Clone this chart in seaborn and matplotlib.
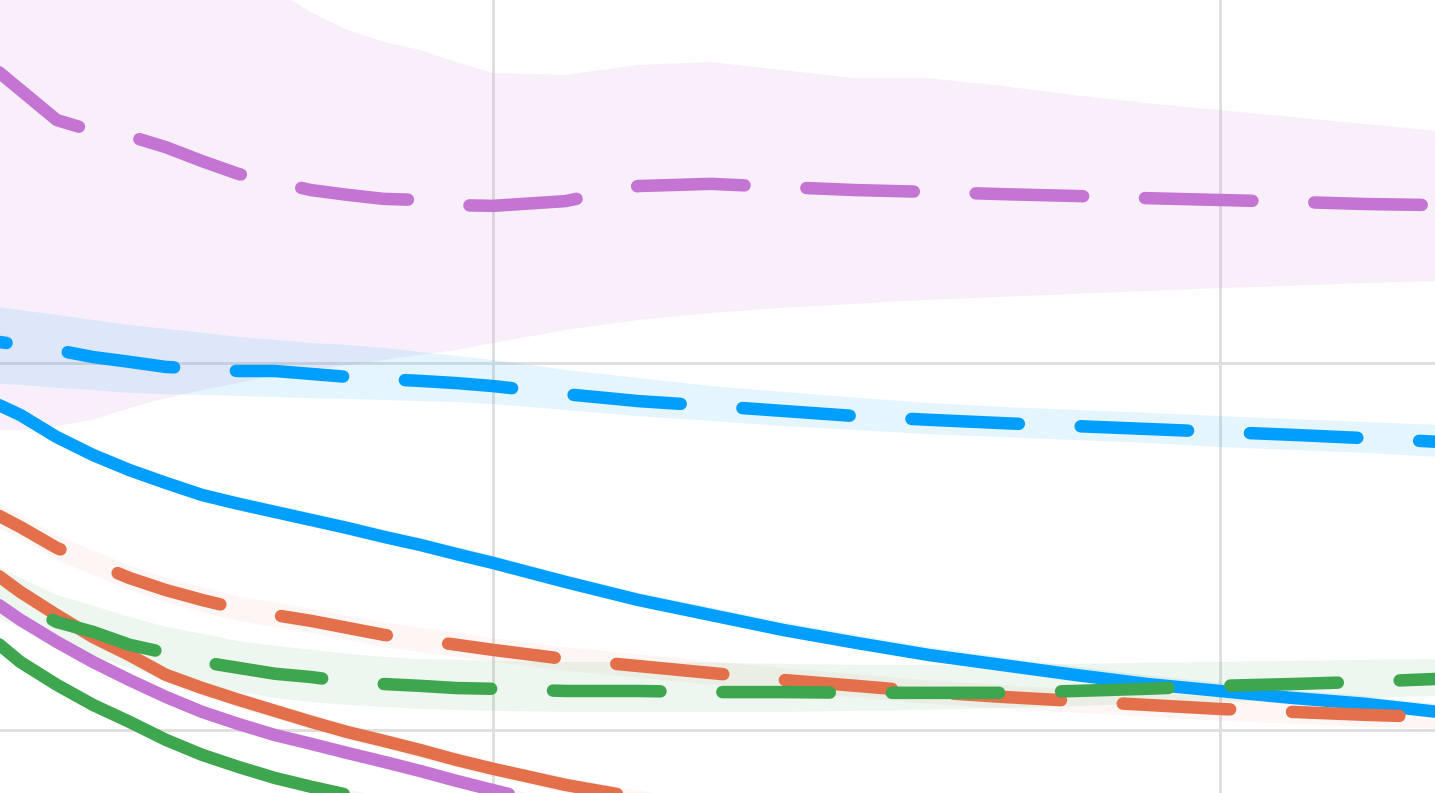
import pandas as pd
import seaborn as sns
import matplotlib
matplotlib.use('Agg')
import matplotlib.pyplot as plt

# x positions (steps): every step early on, every second step later
steps = [6, 7, 8, 9, 10, 11, 12, 13, 14, 15, 16, 17, 18, 19, 20,
         22, 24, 26, 28, 30, 32, 34, 36, 38, 40, 42, 44, 46]

# dashed runs (with bands)
purple_dash = [2.826, 2.744, 2.662, 2.632, 2.618, 2.588, 2.550, 2.515, 2.493, 2.471, 2.458, 2.447, 2.444, 2.430, 2.428,
               2.441, 2.482, 2.488, 2.479, 2.471, 2.466, 2.460, 2.455, 2.449, 2.444, 2.439, 2.433, 2.430]
purple_dash_hi = [3.398, 3.370, 3.316, 3.275, 3.234, 3.193, 3.152, 3.084, 3.016, 2.956, 2.907, 2.875, 2.853, 2.820, 2.790,
                  2.785, 2.812, 2.820, 2.798, 2.776, 2.776, 2.755, 2.730, 2.708, 2.689, 2.670, 2.651, 2.632]
purple_dash_lo = [1.817, 1.817, 1.828, 1.845, 1.877, 1.904, 1.926, 1.945, 1.967, 1.981, 1.994, 2.008, 2.022, 2.035, 2.054,
                  2.090, 2.117, 2.136, 2.150, 2.161, 2.172, 2.180, 2.188, 2.196, 2.204, 2.210, 2.218, 2.223]

blue_dash = [2.063, 2.049, 2.035, 2.016, 2.003, 1.989, 1.984, 1.978, 1.978, 1.970, 1.962, 1.956, 1.951, 1.945, 1.937,
             1.915, 1.896, 1.883, 1.869, 1.855, 1.845, 1.836, 1.828, 1.820, 1.812, 1.804, 1.795, 1.785]
blue_dash_hi = [2.158, 2.144, 2.131, 2.117, 2.103, 2.093, 2.082, 2.071, 2.063, 2.054, 2.049, 2.041, 2.030, 2.019, 2.008,
                1.981, 1.959, 1.937, 1.921, 1.905, 1.891, 1.880, 1.872, 1.864, 1.855, 1.847, 1.839, 1.831]
blue_dash_lo = [1.945, 1.940, 1.932, 1.926, 1.918, 1.915, 1.913, 1.910, 1.907, 1.904, 1.902, 1.899, 1.896, 1.894, 1.888,
                1.872, 1.855, 1.842, 1.828, 1.817, 1.806, 1.798, 1.790, 1.782, 1.771, 1.763, 1.755, 1.744]

orange_dash = [1.605, 1.553, 1.496, 1.455, 1.414, 1.381, 1.354, 1.330, 1.313, 1.297, 1.278, 1.259, 1.245, 1.232, 1.218,
               1.193, 1.174, 1.155, 1.136, 1.120, 1.103, 1.090, 1.079, 1.068, 1.057, 1.049, 1.041, 1.035]
orange_dash_hi = [1.639, 1.587, 1.530, 1.489, 1.448, 1.415, 1.388, 1.364, 1.346, 1.331, 1.311, 1.293, 1.278, 1.266, 1.250,
                  1.225, 1.206, 1.187, 1.168, 1.152, 1.135, 1.122, 1.111, 1.100, 1.089, 1.081, 1.073, 1.067]
orange_dash_lo = [1.572, 1.520, 1.463, 1.422, 1.381, 1.348, 1.321, 1.297, 1.280, 1.264, 1.245, 1.226, 1.212, 1.199, 1.186,
                  1.161, 1.142, 1.123, 1.104, 1.088, 1.071, 1.058, 1.047, 1.036, 1.025, 1.017, 1.009, 1.003]

green_dash = [1.387, 1.346, 1.294, 1.267, 1.232, 1.210, 1.185, 1.169, 1.153, 1.144, 1.131, 1.125, 1.120, 1.114, 1.112,
              1.106, 1.106, 1.103, 1.103, 1.101, 1.101, 1.101, 1.106, 1.112, 1.120, 1.125, 1.131, 1.139]
green_dash_hi = [1.463, 1.414, 1.368, 1.338, 1.308, 1.281, 1.262, 1.242, 1.229, 1.218, 1.207, 1.199, 1.193, 1.191, 1.188,
                 1.185, 1.185, 1.183, 1.180, 1.177, 1.177, 1.177, 1.180, 1.183, 1.185, 1.188, 1.191, 1.193]
green_dash_lo = [1.321, 1.278, 1.232, 1.199, 1.169, 1.142, 1.120, 1.103, 1.087, 1.076, 1.068, 1.063, 1.057, 1.054, 1.052,
                 1.049, 1.049, 1.049, 1.049, 1.052, 1.054, 1.060, 1.065, 1.071, 1.076, 1.082, 1.087, 1.093]

# solid runs
blue_solid = [1.904, 1.858, 1.798, 1.749, 1.708, 1.673, 1.640, 1.616, 1.594, 1.572, 1.550, 1.526, 1.504, 1.479, 1.455,
              1.403, 1.354, 1.313, 1.272, 1.237, 1.204, 1.177, 1.150, 1.125, 1.106, 1.087, 1.071, 1.049]
blue_solid_hi = [1.924, 1.878, 1.818, 1.769, 1.728, 1.693, 1.660, 1.636, 1.614, 1.592, 1.570, 1.546, 1.524, 1.499, 1.475,
                 1.423, 1.374, 1.334, 1.294, 1.259, 1.226, 1.199, 1.173, 1.148, 1.128, 1.108, 1.092, 1.070]
blue_solid_lo = [1.892, 1.846, 1.786, 1.737, 1.696, 1.661, 1.628, 1.604, 1.582, 1.560, 1.538, 1.514, 1.492, 1.467, 1.443,
                 1.391, 1.342, 1.301, 1.260, 1.225, 1.192, 1.165, 1.138, 1.113, 1.094, 1.075, 1.059, 1.037]

orange_solid = [1.449, 1.376, 1.313, 1.253, 1.204, 1.150, 1.114, 1.082, 1.052, 1.022, 0.994, 0.970, 0.945, 0.918, 0.894,
                0.850, 0.815, 0.782]
orange_solid_hi = [1.470, 1.397, 1.334, 1.274, 1.225, 1.171, 1.135, 1.103, 1.073, 1.043, 1.015, 0.991, 0.966, 0.939, 0.915,
                   0.871, 0.836, 0.803]
orange_solid_lo = [1.428, 1.355, 1.292, 1.232, 1.183, 1.129, 1.093, 1.061, 1.031, 1.001, 0.973, 0.949, 0.924, 0.897, 0.873,
                   0.829, 0.794, 0.761]

purple_solid = [1.368, 1.300, 1.240, 1.185, 1.136, 1.090, 1.049, 1.016, 0.986, 0.962, 0.937, 0.913, 0.888, 0.861, 0.836,
                0.787]
purple_solid_hi = [1.384, 1.316, 1.256, 1.201, 1.152, 1.106, 1.065, 1.032, 1.002, 0.978, 0.953, 0.929, 0.904, 0.877, 0.852,
                   0.803]
purple_solid_lo = [1.352, 1.284, 1.224, 1.169, 1.120, 1.074, 1.033, 1.000, 0.970, 0.946, 0.921, 0.897, 0.872, 0.845, 0.820,
                   0.771]

green_solid = [1.267, 1.185, 1.123, 1.068, 1.022, 0.973, 0.932, 0.899, 0.869, 0.845, 0.823, 0.801]
green_solid_hi = [1.283, 1.201, 1.139, 1.084, 1.038, 0.989, 0.948, 0.915, 0.885, 0.861, 0.839, 0.817]
green_solid_lo = [1.251, 1.169, 1.107, 1.052, 1.006, 0.957, 0.916, 0.883, 0.853, 0.829, 0.807, 0.785]

colors = {'purple': '#c475d3', 'blue': '#009ffd', 'orange': '#e3704a', 'green': '#3da64e'}

# (color, mean, lo, hi, dash offset or None for solid, band alpha) -- drawn in this order
runs = [
    ('green', green_solid, green_solid_lo, green_solid_hi, None, 0.08),
    ('purple', purple_solid, purple_solid_lo, purple_solid_hi, None, 0.08),
    ('orange', orange_solid, orange_solid_lo, orange_solid_hi, None, 0.06),
    ('blue', blue_solid, blue_solid_lo, blue_solid_hi, None, 0.10),
    ('purple', purple_dash, purple_dash_lo, purple_dash_hi, 0.75, 0.11),
    ('blue', blue_dash, blue_dash_lo, blue_dash_hi, 7.99, 0.10),
    ('orange', orange_dash, orange_dash_lo, orange_dash_hi, 2.99, 0.06),
    ('green', green_dash, green_dash_lo, green_dash_hi, 8.79, 0.09),
]

sns.set_theme(style='white')
fig = plt.figure(figsize=(14.35, 7.93), dpi=100)
ax = fig.add_axes([0, 0, 1, 1])

# bands first, under all the lines
for name, mean, lo, hi, off, a in runs:
    n = len(mean)
    ax.fill_between(steps[:n], lo, hi, color=colors[name], alpha=a, lw=0, zorder=1)

for name, mean, lo, hi, off, a in runs:
    n = len(mean)
    df = pd.DataFrame({'step': steps[:n], 'loss': mean})
    ls = '-' if off is None else (off, (8.6, 4.95))
    sns.lineplot(data=df, x='step', y='loss', color=colors[name], linewidth=9,
                 linestyle=ls, dash_capstyle='round', solid_capstyle='round',
                 solid_joinstyle='round', dash_joinstyle='round', ax=ax, zorder=3)

ax.set_xlim(6.44, 45.92)
ax.set_ylim(0.828, 2.989)
ax.set_xticks([20, 40])
ax.set_yticks([1, 2])
ax.grid(True, color='#dedede', linewidth=2)
ax.set_axisbelow(True)
ax.tick_params(length=0, labelbottom=False, labelleft=False)
ax.set_xlabel('')
ax.set_ylabel('')
for s in ax.spines.values():
    s.set_visible(False)

fig.savefig('out.png', dpi=100)
